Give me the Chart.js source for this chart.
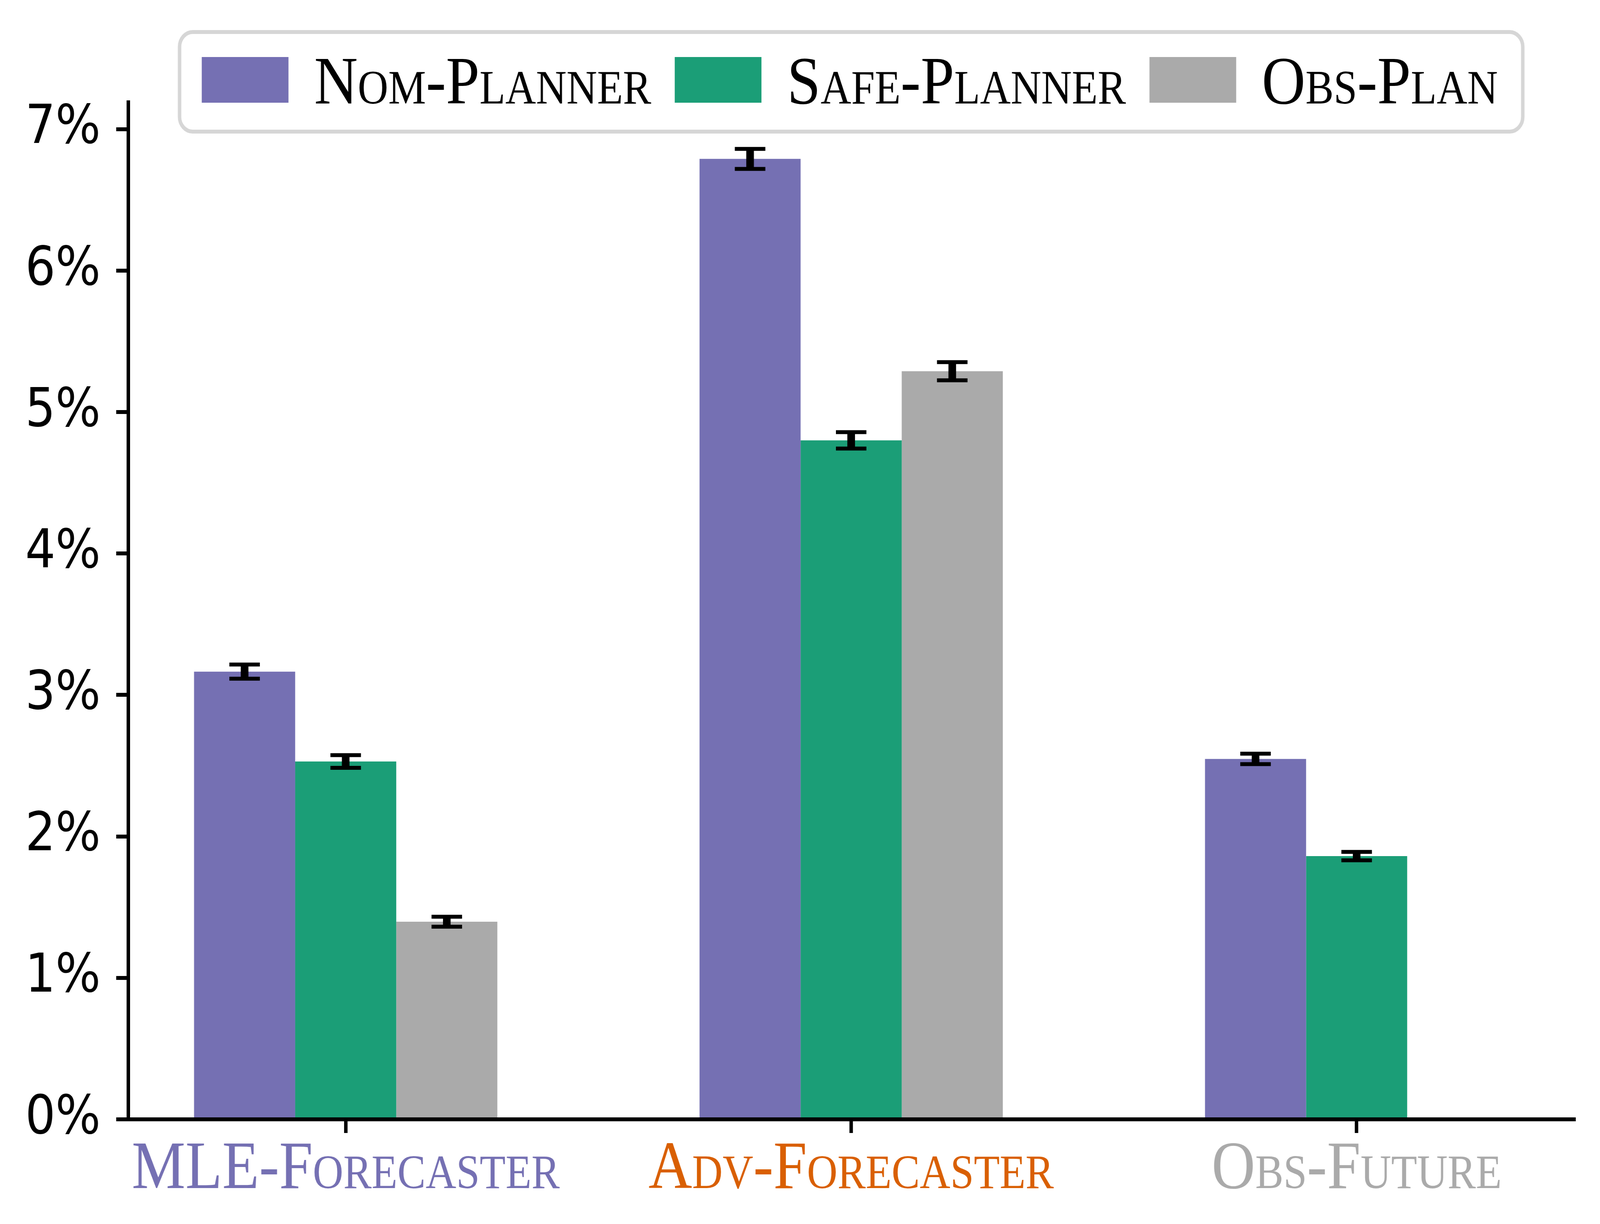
<!DOCTYPE html>
<html>
<head>
<meta charset="utf-8">
<script src="https://cdn.jsdelivr.net/npm/chart.js@4.4.1/dist/chart.umd.min.js"></script>
<style>
  html, body { margin: 0; padding: 0; background: #ffffff; overflow: hidden; }
  canvas { display: block; }
</style>
</head>
<body>
<canvas id="chart" width="4613" height="3134"></canvas>
<script>
// ---- data ----
const categories = ['MLE-Forecaster', 'Adv-Forecaster', 'Obs-Future'];
const categoryColors = ['#7570b3', '#d95f02', '#aaaaaa'];
const seriesNames = ['Nom-Planner', 'Safe-Planner', 'Obs-Plan'];
const seriesColors = ['#7570b3', '#1b9e77', '#aaaaaa'];
const nomPlanner = [3.165, 6.79, 2.548];
const nomPlannerErr = [0.05, 0.071, 0.037];
const safePlanner = [2.53, 4.80, 1.861];
const safePlannerErr = [0.045, 0.058, 0.03];
const obsPlan = [1.397, 5.289, 0.0];
const obsPlanErr = [0.035, 0.064, 0.0];
const yTicks = [0, 1, 2, 3, 4, 5, 6, 7];

const seriesValues = [nomPlanner, safePlanner, obsPlan];
const seriesErrors = [nomPlannerErr, safePlannerErr, obsPlanErr];

const SERIF_SC = "'Liberation Serif', 'DejaVu Serif', serif";
const SC_SIZE = 174;

const canvas = document.getElementById('chart');

const datasets = seriesNames.map((name, d) => ({
  label: name,
  data: categories.map((c, i) => ({ x: i, y: seriesValues[d][i] })),
  errors: seriesErrors[d],
  backgroundColor: seriesColors[d],
  borderWidth: 0,
  categoryPercentage: 0.6,
  barPercentage: 1.0
}));

const whiteBg = {
  id: 'whiteBg',
  beforeDraw(chart) {
    const ctx = chart.ctx;
    ctx.save();
    ctx.fillStyle = '#ffffff';
    ctx.fillRect(0, 0, chart.width, chart.height);
    ctx.restore();
  }
};

const errorBars = {
  id: 'errorBars',
  afterDatasetsDraw(chart) {
    const ctx = chart.ctx;
    const ys = chart.scales.y;
    ctx.save();
    ctx.strokeStyle = '#000000';
    chart.data.datasets.forEach((ds, d) => {
      const meta = chart.getDatasetMeta(d);
      meta.data.forEach((bar, i) => {
        const v = ds.data[i].y, e = ds.errors[i];
        const yt = ys.getPixelForValue(v + e);
        const yb = ys.getPixelForValue(v - e);
        const x = bar.x;
        ctx.lineWidth = 22;
        ctx.beginPath();
        ctx.moveTo(x, yt); ctx.lineTo(x, yb);
        ctx.stroke();
        ctx.lineWidth = 10;
        ctx.beginPath();
        ctx.moveTo(x - 44, yt); ctx.lineTo(x + 44, yt);
        ctx.moveTo(x - 44, yb); ctx.lineTo(x + 44, yb);
        ctx.stroke();
      });
    });
    ctx.restore();
  }
};

const framedLegend = {
  id: 'framedLegend',
  afterDraw(chart) {
    const ctx = chart.ctx;
    ctx.save();
    ctx.font = 'small-caps ' + SC_SIZE + 'px ' + SERIF_SC;
    const items = chart.data.datasets.map(ds => ({
      label: ds.label, color: ds.backgroundColor, w: ctx.measureText(ds.label).width
    }));
    const boxW = 250, boxH = 117, gapBT = 74, gapItem = 68, padL = 69, padR = 77;
    let total = padL + padR + gapItem * (items.length - 1);
    items.forEach(it => { total += boxW + gapBT + it.w; });
    const ca = chart.chartArea;
    const cx = (ca.left + ca.right) / 2;
    const x0 = cx - total / 2;
    const top = 77, bottom = 342;
    ctx.beginPath();
    ctx.roundRect(x0 + 5, top + 5, total - 10, bottom - top - 10, 38);
    ctx.fillStyle = 'rgba(255,255,255,0.8)';
    ctx.fill();
    ctx.lineWidth = 10;
    ctx.strokeStyle = '#d6d6d6';
    ctx.stroke();
    let x = x0 + padL;
    ctx.textBaseline = 'alphabetic';
    ctx.textAlign = 'left';
    items.forEach(it => {
      ctx.fillStyle = it.color;
      ctx.fillRect(x, 146, boxW, boxH);
      ctx.fillStyle = '#000000';
      ctx.fillText(it.label, x + boxW + gapBT, 265);
      x += boxW + gapBT + it.w + gapItem;
    });
    ctx.restore();
  }
};

new Chart(canvas, {
  type: 'bar',
  data: { datasets },
  plugins: [whiteBg, errorBars, framedLegend],
  options: {
    responsive: false,
    devicePixelRatio: 1,
    animation: false,
    layout: { padding: { left: 0, right: 75, top: 262, bottom: 0 } },
    plugins: { legend: { display: false }, tooltip: { enabled: false } },
    scales: {
      x: {
        type: 'linear',
        min: -0.43,
        max: 2.43,
        offset: false,
        z: 1,
        afterBuildTicks(scale) { scale.ticks = categories.map((c, i) => ({ value: i })); },
        afterFit(scale) { scale.height = 268; },
        grid: { offset: false, drawOnChartArea: false, drawTicks: true, tickLength: 35, tickWidth: 10, tickColor: '#000000', lineWidth: 10 },
        border: { display: true, width: 10, color: '#000000' },
        ticks: {
          callback: (v) => categories[v],
          color: (c) => categoryColors[c.index],
          font: { family: SERIF_SC, size: SC_SIZE, weight: 'small-caps', lineHeight: 1 },
          padding: 8,
          maxRotation: 0,
          autoSkip: false
        }
      },
      y: {
        type: 'linear',
        min: 0,
        max: 7.19,
        z: 1,
        afterBuildTicks(scale) { scale.ticks = yTicks.map(v => ({ value: v })); },
        afterFit(scale) { scale.width = 370; },
        grid: { drawOnChartArea: false, drawTicks: true, tickLength: 35, tickWidth: 10, tickColor: '#000000', lineWidth: 10 },
        border: { display: true, width: 10, color: '#000000' },
        ticks: {
          callback: (v) => v + '%',
          color: '#000000',
          font: { family: "'DejaVu Sans'", size: 137, lineHeight: 1 },
          padding: 45
        }
      }
    }
  }
});

// show the 4613x3134 drawing across the whole browser viewport
canvas.style.width = window.innerWidth + 'px';
canvas.style.height = window.innerHeight + 'px';
</script>
</body>
</html>
